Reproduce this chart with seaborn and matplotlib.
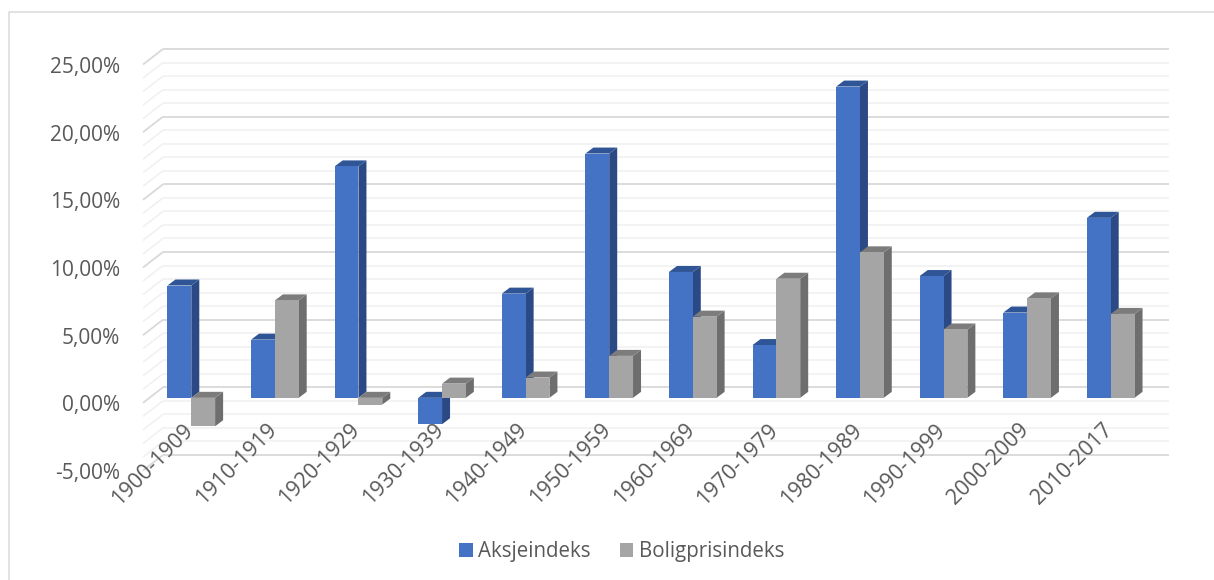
import matplotlib
matplotlib.use("Agg")
import matplotlib.pyplot as plt
from matplotlib.lines import Line2D
from matplotlib.patches import Polygon, Patch
from matplotlib.transforms import Affine2D
import pandas as pd
import seaborn as sns

periods = ["1900-1909", "1910-1919", "1920-1929", "1930-1939", "1940-1949", "1950-1959",
           "1960-1969", "1970-1979", "1980-1989", "1990-1999", "2000-2009", "2010-2017"]
aksjeindeks = [8.3, 4.3, 17.1, -1.95, 7.7, 18.05, 9.3, 3.9, 23.0, 9.0, 6.3, 13.3]
boligprisindeks = [-2.1, 7.2, -0.5, 1.05, 1.5, 3.1, 6.0, 8.8, 10.75, 5.05, 7.35, 6.2]
series_names = ["Aksjeindeks", "Boligprisindeks"]
y_ticks = [-5, 0, 5, 10, 15, 20, 25]
y_labels = ["-5,00%", "0,00%", "5,00%", "10,00%", "15,00%", "20,00%", "25,00%"]

front_colors = {"Aksjeindeks": "#4472C4", "Boligprisindeks": "#A5A5A5"}
side_colors = ["#2B4A85", "#6E6E6E"]
top_colors = ["#2F5597", "#7C7C7C"]

W, H = 1214, 580
sns.set_style("white")
plt.rcParams["font.family"] = ["Open Sans", "DejaVu Sans"]

fig = plt.figure(figsize=(W / 100, H / 100), dpi=100, facecolor="white")
left, right, floor, ceil = 163, 1166, 455, 49
ax = fig.add_axes([left / W, 1 - floor / H, (right - left) / W, (floor - ceil) / H])
ax.set_facecolor("none")

# chart frame: only the top and left edges fall inside the image
fig.add_artist(Line2D([9 / W, 9 / W, 1], [0, 1 - 12 / H, 1 - 12 / H],
                      transform=fig.transFigure, color="#DADADA", lw=1.1))

df = pd.DataFrame({
    "periode": periods * 2,
    "serie": [series_names[0]] * 12 + [series_names[1]] * 12,
    "verdi": aksjeindeks + boligprisindeks,
})
sns.barplot(data=df, x="periode", y="verdi", hue="serie", palette=front_colors,
            width=0.57, gap=0, dodge=True, errorbar=None, legend=False, ax=ax,
            saturation=1, linewidth=0)

ax.set_xlim(-0.5, 11.5)
ax.set_ylim(-5, 25)
px_x = (right - left) / 12
px_y = (floor - ceil) / 30

# the bars stand in the middle of the floor, in front of the back wall
front = ax.transData + Affine2D().translate(-13.5, -10.5)
ddx, ddy = 8 / px_x, 6 / px_y

for j, container in enumerate(ax.containers):
    for i, bar in enumerate(container.patches):
        base_z = 5 + i * 2 + j * 0.5
        x0, x1 = bar.get_x(), bar.get_x() + bar.get_width()
        h = bar.get_height()
        y0, y1 = min(0, h), max(0, h)
        bar.set_transform(front)
        bar.set_zorder(base_z + 0.2)
        bar.set_clip_on(False)
        ax.add_patch(Polygon([(x1, y0), (x1 + ddx, y0 + ddy), (x1 + ddx, y1 + ddy), (x1, y1)],
                             closed=True, fc=side_colors[j], ec="none", transform=front,
                             zorder=base_z, clip_on=False))
        ax.add_patch(Polygon([(x0, y1), (x1, y1), (x1 + ddx, y1 + ddy), (x0 + ddx, y1 + ddy)],
                             closed=True, fc=top_colors[j], ec="none", transform=front,
                             zorder=base_z + 0.1, clip_on=False))

# back wall grid and the side wall running forward from it
ax.set_yticks(y_ticks)
ax.set_yticklabels(y_labels)
minor = [v for v in range(-5, 26) if v not in y_ticks]
ax.grid(False)
x_end = 11.5 + 3 / px_x
ax.hlines(minor, -0.5, x_end, colors="#F1F1F1", lw=1.2, zorder=1, clip_on=False)
ax.hlines(y_ticks, -0.5, x_end, colors="#D9D9D9", lw=1.3, zorder=1.2, clip_on=False)
for v in range(-5, 26):
    major = v in y_ticks
    ax.plot([-0.5, -0.5 - 20 / px_x], [v, v - 15.5 / px_y],
            color="#D9D9D9" if major else "#F1F1F1", lw=1.3 if major else 1.2,
            zorder=1.2 if major else 1, clip_on=False, solid_capstyle="butt")

for s in ax.spines.values():
    s.set_visible(False)
ax.set_axisbelow(False)
ax.set_xlabel("")
ax.set_ylabel("")
ax.tick_params(axis="both", which="both", length=0)
ax.tick_params(axis="y", pad=31, labelsize=15, labelcolor="#595959")
ax.tick_params(axis="x", labelsize=15.5, labelcolor="#595959", pad=0)

shift_y = Affine2D().translate(0, -16)
for lab in ax.get_yticklabels():
    lab.set_transform(lab.get_transform() + shift_y)

ax.set_xticks(range(12))
ax.set_xticklabels(periods, rotation=45, ha="right", va="center", rotation_mode="anchor")
shift_x = Affine2D().translate(-15, 28)
for lab in ax.get_xticklabels():
    lab.set_transform(lab.get_transform() + shift_x)

handles = [Patch(fc=front_colors[n], ec="none", label=n) for n in series_names]
fig.legend(handles=handles, loc="center", bbox_to_anchor=(621.5 / W, 1 - 552 / H), ncol=2,
           frameon=False, fontsize=14.8, labelcolor="#595959", handlelength=0.67, handleheight=0.67,
           handletextpad=0.25, columnspacing=1.42)

fig.savefig("out.png", dpi=100, facecolor="white")
